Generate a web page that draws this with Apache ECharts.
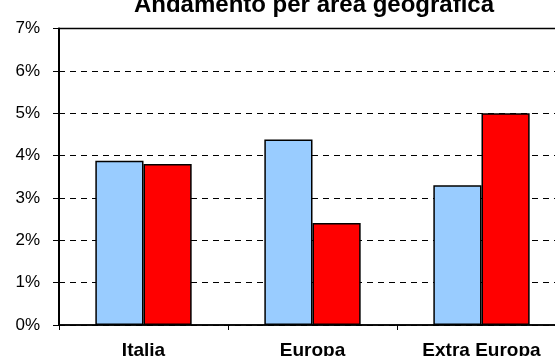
<!DOCTYPE html>
<html>
<head>
<meta charset="utf-8">
<script src="https://cdn.jsdelivr.net/npm/echarts@6/dist/echarts.min.js"></script>
<style>
  html, body { margin: 0; padding: 0; background: #fff; overflow: hidden; }
  #chart { width: 555px; height: 356px; }
</style>
</head>
<body>
<div id="chart"></div>
<script>
// Growth by geographic area (percent)
const titleText = 'Andamento per area geografica';
const categories = ['Italia', 'Europa', 'Extra Europa'];
const seriesA = [3.88, 4.38, 3.30];
const seriesB = [3.80, 2.41, 5.00];
const yTicks = [0, 1, 2, 3, 4, 5, 6, 7];

const font = '"Liberation Sans", Arial, sans-serif';
const chart = echarts.init(document.getElementById('chart'), null, { renderer: 'canvas' });

chart.setOption({
  animation: false,
  backgroundColor: '#ffffff',
  title: {
    text: titleText,
    left: 309,
    textAlign: 'center',
    top: -12,
    textStyle: { fontFamily: font, fontSize: 24, fontWeight: 'bold', color: '#000' }
  },
  grid: {
    left: 59,
    top: 28.5,
    width: 507,
    height: 296.5,
    outerBoundsMode: 'none',
    containLabel: false,
    show: true,
    borderColor: '#000',
    borderWidth: 1.5,
    backgroundColor: 'transparent'
  },
  xAxis: {
    type: 'category',
    data: categories,
    axisLine: { lineStyle: { color: '#000', width: 1.5 } },
    axisTick: { show: true, length: 5, alignWithLabel: false, lineStyle: { color: '#000' } },
    axisLabel: {
      margin: 16,
      fontFamily: font,
      fontSize: 19,
      fontWeight: 'bold',
      color: '#000'
    }
  },
  yAxis: {
    type: 'value',
    min: yTicks[0],
    max: yTicks[yTicks.length - 1],
    interval: 1,
    axisLine: { show: true, lineStyle: { color: '#000', width: 2 } },
    axisTick: { show: true, length: 6, lineStyle: { color: '#000' } },
    axisLabel: {
      margin: 19,
      fontFamily: font,
      fontSize: 17,
      color: '#000',
      formatter: '{value}%'
    },
    splitLine: {
      show: true,
      lineStyle: { color: '#000', width: 1, type: [6, 5] }
    }
  },
  series: [
    {
      type: 'bar',
      data: seriesA,
      barGap: '0%',
      barCategoryGap: '43%',
      itemStyle: { color: '#99ccff', borderColor: '#000', borderWidth: 1.5 }
    },
    {
      type: 'bar',
      data: seriesB,
      itemStyle: { color: '#ff0000', borderColor: '#000', borderWidth: 1.5 }
    }
  ]
});
</script>
</body>
</html>
